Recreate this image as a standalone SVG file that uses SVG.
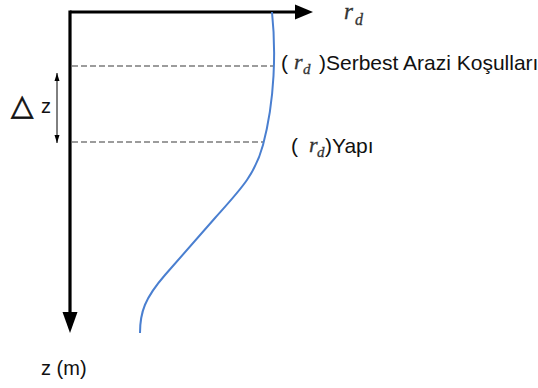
<svg xmlns="http://www.w3.org/2000/svg" width="538" height="388" viewBox="0 0 538 388">
<style>
.axis{stroke:#000;stroke-width:3.2;fill:none}
.dash{stroke:#3a3a3a;stroke-width:1.2;stroke-dasharray:6 3;fill:none}
.curve{stroke:#4a7fd0;stroke-width:2;fill:none}
.lbl{font-family:"Liberation Sans",Arial,sans-serif;fill:#111}
.math{font-family:"Liberation Serif","Times New Roman",serif;font-style:italic;fill:#333}
</style>
<defs>
<marker id="sa" viewBox="0 0 8 8" refX="8" refY="4" markerWidth="8" markerHeight="8" markerUnits="userSpaceOnUse" orient="auto-start-reverse">
<path d="M0,1.5 L8,4 L0,6.5 Z" fill="#000"/>
</marker>
</defs>
<rect width="538" height="388" fill="#fff"/>
<g id="connectors">
<path class="axis" d="M70,12 H296"/>
<path d="M295,4.5 L313,12 L295,19.5 Z" fill="#000"/>
<path class="axis" d="M70,10.4 V313"/>
<path d="M62.5,312 L70,333 L77.5,312 Z" fill="#000"/>
<path class="dash" d="M72,66 H273"/>
<path class="dash" d="M72,142 H264"/>
<path d="M57,73 V143" stroke="#000" stroke-width="1" marker-start="url(#sa)" marker-end="url(#sa)"/>
<path class="curve" d="M272,12 C276,50 275,100 263,145 C255,175 240,190 215,218 L165,275 C145,298 140,312 140,333"/>
</g>
<g id="label-rd-axis">
<text class="math" x="344" y="19" font-size="23" stroke="#333" stroke-width="0.3">r</text>
<text class="math" x="355" y="25" font-size="16" stroke="#333" stroke-width="0.3">d</text>
</g>
<g id="label-serbest">
<text class="lbl" x="281" y="70" font-size="21">(</text>
<text class="math" x="294" y="69" font-size="22" stroke="#333" stroke-width="0.3">r</text>
<text class="math" x="303" y="74" font-size="15" stroke="#333" stroke-width="0.3">d</text>
<text class="lbl" x="319" y="70" font-size="21">)Serbest Arazi Koşulları</text>
</g>
<g id="label-yapi">
<text class="lbl" x="291" y="153" font-size="21">(</text>
<text class="math" x="309" y="152" font-size="22" stroke="#333" stroke-width="0.3">r</text>
<text class="math" x="317" y="157" font-size="15" stroke="#333" stroke-width="0.3">d</text>
<text class="lbl" x="325" y="153" font-size="21">)Yapı</text>
</g>
<g id="label-dz">
<text x="11" y="115" font-size="29" fill="#111" stroke="#111" stroke-width="0.7" style="font-family:'DejaVu Sans',sans-serif">△</text>
<text class="lbl" x="41" y="113" font-size="20">z</text>
</g>
<g id="label-zm">
<text class="lbl" x="41" y="375" font-size="20">z (m)</text>
</g>
</svg>
